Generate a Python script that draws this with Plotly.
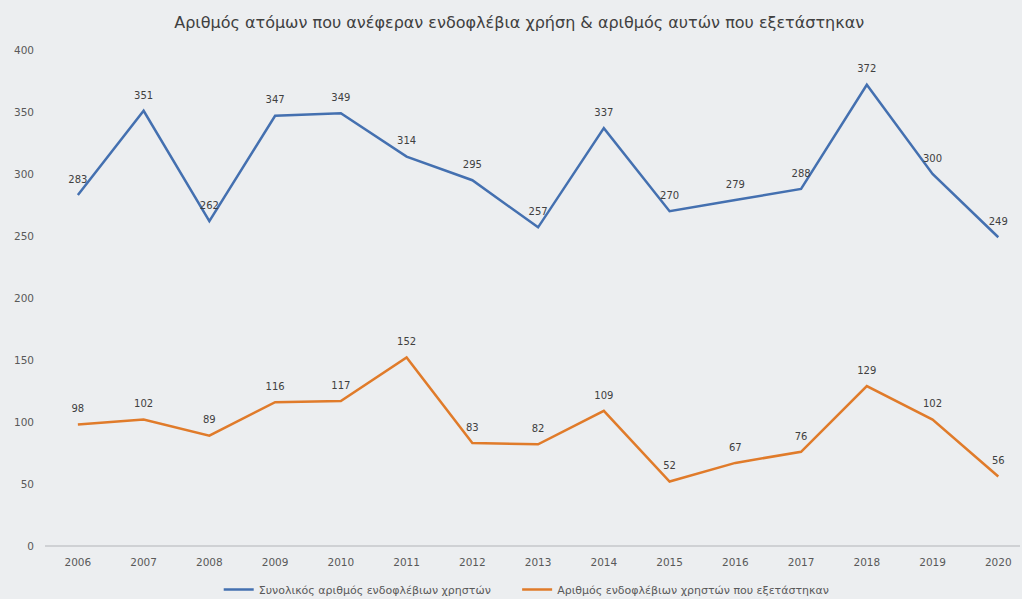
import plotly.graph_objects as go

years = ["2006", "2007", "2008", "2009", "2010", "2011", "2012", "2013",
         "2014", "2015", "2016", "2017", "2018", "2019", "2020"]
total_users = [283, 351, 262, 347, 349, 314, 295, 257, 337, 270, 279, 288, 372, 300, 249]
tested_users = [98, 102, 89, 116, 117, 152, 83, 82, 109, 52, 67, 76, 129, 102, 56]

name_total = "Συνολικός αριθμός ενδοφλέβιων χρηστών"
name_tested = "Αριθμός ενδοφλέβιων χρηστών που εξετάστηκαν"
title = "Αριθμός ατόμων που ανέφεραν ενδοφλέβια χρήση & αριθμός αυτών που εξετάστηκαν"

x = list(range(len(years)))
bg = "#eceef0"
font_fam = "DejaVu Sans, Open Sans, sans-serif"

series = [(name_total, total_users, "#4470b0", "legend"),
          (name_tested, tested_users, "#e07b2a", "legend2")]

fig = go.Figure()
for name, vals, col, leg in series:
    fig.add_trace(go.Scatter(
        x=x, y=vals, mode="lines", name=name, legend=leg,
        line=dict(color=col, width=2.5),
    ))
for name, vals, col, leg in series:
    fig.add_trace(go.Scatter(
        x=x, y=vals, mode="markers+text", showlegend=False, hoverinfo="skip",
        marker=dict(size=14, opacity=0),
        text=[str(v) for v in vals], textposition="top center",
        textfont=dict(size=10, color="#404040"),
    ))

legend_style = dict(orientation="h", xanchor="left",
                    xref="container", yref="container", y=0.016, yanchor="middle",
                    font=dict(size=11, color="#595959"), bgcolor="rgba(0,0,0,0)",
                    itemwidth=30)

fig.update_layout(
    width=1022, height=599,
    paper_bgcolor=bg, plot_bgcolor=bg,
    margin=dict(l=45, r=2, t=50, b=53, autoexpand=False),
    font=dict(family=font_fam, color="#595959", size=10),
    title=dict(text=title, x=0.508, xanchor="center", y=0.962, yanchor="middle",
               font=dict(size=16, color="#404040", family=font_fam)),
    showlegend=True,
    legend=dict(x=0.214, **legend_style),
    legend2=dict(x=0.506, **legend_style),
    xaxis=dict(
        tickmode="array", tickvals=x, ticktext=years,
        range=[-0.5, 14.33], showgrid=False, zeroline=False,
        showline=False, ticks="", tickfont=dict(size=10.5, color="#595959"),
        ticklabelstandoff=8,
    ),
    yaxis=dict(
        range=[0, 400], dtick=50, showgrid=False, zeroline=True,
        zerolinecolor="#cfd1d4", zerolinewidth=1.5,
        ticks="", tickfont=dict(size=10.5, color="#595959"), ticklabelstandoff=10,
    ),
)

fig.write_html("out.html", config={"displayModeBar": False},
               post_script="document.body.style.margin='0';document.body.style.padding='0';")
